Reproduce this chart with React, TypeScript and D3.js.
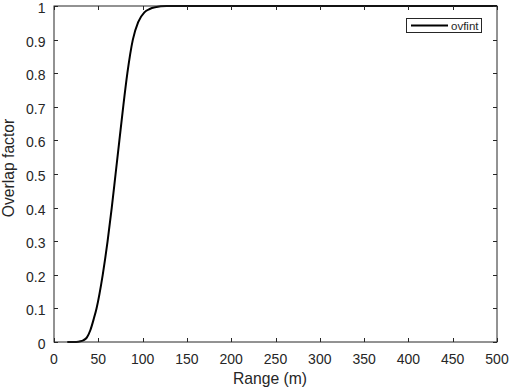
import * as d3 from 'd3';
import { useEffect, useRef } from 'react';

// overlap factor vs range
const rangeM = [15, 20, 25, 30, 33, 37, 41, 45, 48, 55, 60.5, 65.2, 69.5, 73.8, 78.1, 82.8, 89, 95, 102, 108, 114, 127, 150, 200, 300, 400, 500];
const overlap = [0, 0, 0, 0.002, 0.005, 0.013, 0.035, 0.07, 0.1, 0.2, 0.3, 0.4, 0.5, 0.6, 0.7, 0.8, 0.9, 0.952, 0.981, 0.991, 0.996, 1, 1, 1, 1, 1, 1];
const xTicks = [0, 50, 100, 150, 200, 250, 300, 350, 400, 450, 500];
const yTicks = [0, 0.1, 0.2, 0.3, 0.4, 0.5, 0.6, 0.7, 0.8, 0.9, 1];
const seriesName = 'ovfint';

export default function App() {
  const svgRef = useRef<SVGSVGElement>(null);

  useEffect(() => {
    const w = 510;
    const h = 388;
    const left = 54, right = 497, top = 6, bottom = 342;
    const axisColor = '#262626';
    const font = "'Liberation Sans', Arial, sans-serif";

    const svg = d3.select(svgRef.current);
    svg.selectAll('*').remove();
    svg.attr('width', w).attr('height', h).style('background', 'white');

    const x = d3.scaleLinear().domain([0, 500]).range([left, right]);
    const y = d3.scaleLinear().domain([0, 1]).range([bottom, top]);

    // curve
    const line = d3.line<number>()
      .x((d, i) => x(rangeM[i]))
      .y(d => y(d))
      .curve(d3.curveMonotoneX);
    svg.append('path')
      .datum(overlap)
      .attr('d', line)
      .attr('fill', 'none')
      .attr('stroke', 'black')
      .attr('stroke-width', 2);

    // axes (box with inward ticks on all sides)
    const tl = 4;
    const g = svg.append('g').attr('stroke', axisColor).attr('stroke-width', 1);
    g.append('rect')
      .attr('x', left).attr('y', top)
      .attr('width', right - left).attr('height', bottom - top)
      .attr('fill', 'none');
    xTicks.forEach(t => {
      const px = Math.round(x(t)) + 0.5;
      g.append('line').attr('x1', px).attr('x2', px).attr('y1', bottom).attr('y2', bottom - tl);
      g.append('line').attr('x1', px).attr('x2', px).attr('y1', top).attr('y2', top + tl);
    });
    yTicks.forEach(t => {
      const py = Math.round(y(t)) + 0.5;
      g.append('line').attr('x1', left).attr('x2', left + tl).attr('y1', py).attr('y2', py);
      g.append('line').attr('x1', right).attr('x2', right - tl).attr('y1', py).attr('y2', py);
    });

    // tick labels
    svg.append('g').selectAll('text')
      .data(xTicks)
      .join('text')
      .attr('x', d => x(d))
      .attr('y', bottom + 21.5)
      .attr('text-anchor', 'middle')
      .attr('fill', axisColor)
      .style('font', `14px ${font}`)
      .text(d => String(d));
    svg.append('g').selectAll('text')
      .data(yTicks)
      .join('text')
      .attr('x', left - 8.5)
      .attr('y', d => y(d) + 7)
      .attr('text-anchor', 'end')
      .attr('fill', axisColor)
      .style('font', `14px ${font}`)
      .text(d => String(d));

    // axis titles
    svg.append('text')
      .attr('x', 270)
      .attr('y', 384)
      .attr('text-anchor', 'middle')
      .attr('fill', axisColor)
      .style('font', `15.7px ${font}`)
      .text('Range (m)');
    svg.append('text')
      .attr('transform', `translate(13.5, 168) rotate(-90)`)
      .attr('text-anchor', 'middle')
      .attr('fill', axisColor)
      .style('font', `15.7px ${font}`)
      .text('Overlap factor');

    // legend
    const lg = svg.append('g');
    lg.append('rect')
      .attr('x', 406.5).attr('y', 18.5)
      .attr('width', 75).attr('height', 14)
      .attr('fill', 'white')
      .attr('stroke', axisColor)
      .attr('stroke-width', 1);
    lg.append('line')
      .attr('x1', 411).attr('x2', 448)
      .attr('y1', 25.5).attr('y2', 25.5)
      .attr('stroke', 'black')
      .attr('stroke-width', 2);
    lg.append('text')
      .attr('x', 451)
      .attr('y', 29.5)
      .attr('fill', axisColor)
      .style('font', `11.5px ${font}`)
      .text(seriesName);
  });

  return (
    <div style={{ position: 'absolute', left: 0, top: 0 }}>
      <svg ref={svgRef}></svg>
    </div>
  );
}
